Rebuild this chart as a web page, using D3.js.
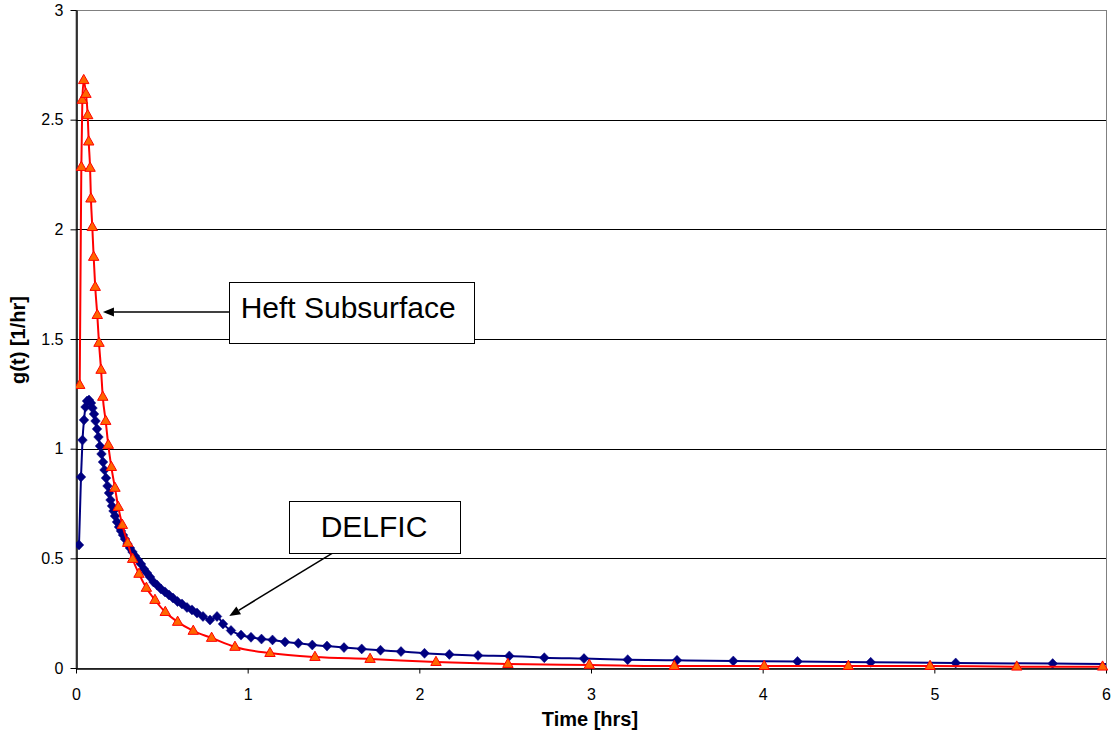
<!DOCTYPE html>
<html>
<head>
<meta charset="utf-8">
<script src="https://cdn.jsdelivr.net/npm/d3@7"></script>
<style>
  html, body { margin: 0; padding: 0; background: #fff; }
  svg { display: block; font-family: "Liberation Sans", Arial, sans-serif; }
</style>
</head>
<body>
<svg id="chart" width="1112" height="738"></svg>
<script>
// ---------- DATA ----------
const xTickValues = [0, 1, 2, 3, 4, 5, 6];
const xTickLabels = ["0", "1", "2", "3", "4", "5", "6"];
const yTickValues = [0, 0.5, 1, 1.5, 2, 2.5, 3];
const yTickLabels = ["0", "0.5", "1", "1.5", "2", "2.5", "3"];

const xTitle = "Time [hrs]";
const yTitle = "g(t) [1/hr]";

// DELFIC (blue diamonds)
const delficT = [0.0175, 0.0291, 0.0379, 0.0466, 0.0553, 0.0641, 0.0757, 0.0874, 0.0961, 0.1049,
  0.1136, 0.1223, 0.1311, 0.1398, 0.1485, 0.1573, 0.1660, 0.1748, 0.1835, 0.1922,
  0.2010, 0.2097, 0.2184, 0.2272, 0.2388, 0.2505, 0.2621, 0.2738, 0.2854, 0.3000,
  0.3146, 0.3291, 0.3437, 0.3612, 0.3786, 0.3961, 0.4136, 0.4311, 0.4515, 0.4718,
  0.4951, 0.5184, 0.5417, 0.5650, 0.5913, 0.6175, 0.6466, 0.6757, 0.7049, 0.7398,
  0.7806, 0.8214, 0.8563, 0.9029, 0.9612, 1.0194, 1.0806, 1.1447, 1.2175, 1.2950,
  1.3765, 1.4621, 1.5612, 1.6643, 1.7738, 1.8932, 2.0301, 2.1746, 2.3417, 2.5241,
  2.7280, 2.9592, 3.2138, 3.5010, 3.8290, 4.2029, 4.6293, 5.1245, 5.6895, 6.3];
const delficG = [0.561, 0.871, 1.039, 1.131, 1.190, 1.217, 1.222, 1.208, 1.185, 1.158,
  1.126, 1.090, 1.053, 1.012, 0.976, 0.939, 0.903, 0.866, 0.830, 0.798,
  0.766, 0.739, 0.716, 0.693, 0.666, 0.643, 0.625, 0.606, 0.588, 0.565,
  0.547, 0.529, 0.511, 0.492, 0.474, 0.451, 0.433, 0.415, 0.392, 0.378,
  0.360, 0.347, 0.333, 0.319, 0.303, 0.292, 0.276, 0.265, 0.251, 0.235,
  0.219, 0.235, 0.201, 0.171, 0.150, 0.140, 0.132, 0.128, 0.119, 0.113,
  0.105, 0.100, 0.093, 0.087, 0.081, 0.075, 0.067, 0.062, 0.057, 0.055,
  0.047, 0.043, 0.038, 0.035, 0.032, 0.030, 0.026, 0.023, 0.020, 0.017];

// Heft Subsurface (red triangles)
const heftT = [0.0216, 0.031, 0.037, 0.045, 0.058, 0.068, 0.074, 0.082, 0.087, 0.095,
  0.103, 0.112, 0.124, 0.134, 0.146, 0.156, 0.173, 0.188, 0.206, 0.227,
  0.246, 0.270, 0.301, 0.330, 0.367, 0.410, 0.460, 0.520, 0.592, 0.683,
  0.790, 0.926, 1.130, 1.392, 1.713, 2.097, 2.516, 2.990, 3.485, 4.009,
  4.499, 4.975, 5.480, 5.980];
const heftG = [1.290, 2.284, 2.590, 2.680, 2.617, 2.520, 2.400, 2.280, 2.140, 2.010,
  1.874, 1.737, 1.609, 1.482, 1.359, 1.236, 1.126, 1.017, 0.916, 0.821,
  0.734, 0.652, 0.570, 0.497, 0.429, 0.365, 0.310, 0.255, 0.210, 0.169,
  0.137, 0.096, 0.068, 0.050, 0.041, 0.027, 0.018, 0.014, 0.009, 0.009,
  0.009, 0.009, 0.006, 0.006];

// Annotations (in data units)
const annotations = [
  { label: "Heft Subsurface", box: [0.891, 1.760, 2.318, 1.482], text: [0.959, 1.594], anchor: "start",
    from: [0.891, 1.623], to: [0.157, 1.623] },
  { label: "DELFIC", box: [1.243, 0.763, 2.237, 0.526], text: [1.736, 0.597], anchor: "middle",
    from: [1.499, 0.526], to: [0.893, 0.237] }
];

// ---------- CHART ----------
const svg = d3.select("#chart");
const x = d3.scaleLinear().domain([0, 6]).range([76, 1106]);
const y = d3.scaleLinear().domain([0, 3]).range([668, 10]);

const delfic = delficT.map((t, i) => ({ t, g: delficG[i] }));
const heft = heftT.map((t, i) => ({ t, g: heftG[i] }));

svg.append("defs").append("clipPath").attr("id", "plotClip")
  .append("rect").attr("x", 76).attr("y", 4).attr("width", 1036).attr("height", 672);
svg.append("defs").append("clipPath").attr("id", "lineClip")
  .append("rect").attr("x", 76).attr("y", 4).attr("width", 1030).attr("height", 672);

// plot border (gray)
svg.append("rect")
  .attr("x", x(0)).attr("y", y(3) + 0.5)
  .attr("width", x(6) - x(0) + 0.5).attr("height", y(0) - y(3))
  .attr("fill", "none").attr("stroke", "#808080").attr("stroke-width", 1);

// gridlines
svg.append("g").selectAll("line")
  .data(yTickValues.filter(v => v > 0 && v < 3))
  .join("line")
  .attr("x1", x(0)).attr("x2", x(6))
  .attr("y1", d => Math.round(y(d)) + 0.5).attr("y2", d => Math.round(y(d)) + 0.5)
  .attr("stroke", "#000").attr("stroke-width", 1);

// axes
const xAxis = d3.axisBottom(x).tickValues(xTickValues)
  .tickFormat((d, i) => xTickLabels[i]).tickSize(5).tickPadding(15).tickSizeOuter(0);
const yAxis = d3.axisLeft(y).tickValues(yTickValues)
  .tickFormat((d, i) => yTickLabels[i]).tickSize(6).tickPadding(7).tickSizeOuter(0);

const gx = svg.append("g").attr("transform", `translate(0,${Math.round(y(0)) + 0.5})`).call(xAxis);
const gy = svg.append("g").attr("transform", `translate(${Math.round(x(0)) + 0.5},0)`).call(yAxis);
[gx, gy].forEach(g => {
  g.select(".domain").attr("stroke", "#000").attr("stroke-width", 1.5);
  g.selectAll(".tick line").attr("stroke", "#000").attr("stroke-width", 1);
  g.selectAll(".tick text").attr("fill", "#000")
    .style("font-family", '"Liberation Sans", Arial, sans-serif').style("font-size", "16px");
});

// axis titles
svg.append("text").attr("x", 590).attr("y", 726).attr("text-anchor", "middle")
  .style("font-size", "20px").style("font-weight", "bold").text(xTitle);
svg.append("text").attr("transform", `translate(25,${y(1.5) + 1}) rotate(-90)`)
  .attr("text-anchor", "middle")
  .style("font-size", "20px").style("font-weight", "bold").text(yTitle);

// series
const plot = svg.append("g").attr("clip-path", "url(#plotClip)");
const line = d3.line().x(d => x(d.t)).y(d => y(d.g)).curve(d3.curveMonotoneX);

plot.append("path").datum(delfic).attr("d", line).attr("clip-path", "url(#lineClip)")
  .attr("fill", "none").attr("stroke", "#000080").attr("stroke-width", 2);
plot.append("g").selectAll("path").data(delfic.filter(d => d.t <= 6)).join("path")
  .attr("transform", d => `translate(${x(d.t)},${y(d.g)})`)
  .attr("d", "M0,-5L4.8,0L0,5L-4.8,0Z")
  .attr("fill", "#000080").attr("stroke", "#000080").attr("stroke-width", 0.5);

plot.append("path").datum(heft).attr("d", line).attr("clip-path", "url(#lineClip)")
  .attr("fill", "none").attr("stroke", "#ff0000").attr("stroke-width", 2);
plot.append("g").selectAll("path").data(heft).join("path")
  .attr("transform", d => `translate(${x(d.t)},${y(d.g)})`)
  .attr("d", "M0,-5.8L5.2,3.4L-5.2,3.4Z")
  .attr("fill", "#ff6600").attr("stroke", "#ff0000").attr("stroke-width", 1);

// annotations
const ann = svg.append("g");
annotations.forEach(a => {
  const x1 = x(a.box[0]), y1 = y(a.box[1]), x2 = x(a.box[2]), y2 = y(a.box[3]);
  const fx = x(a.from[0]), fy = y(a.from[1]), tx = x(a.to[0]), ty = y(a.to[1]);
  const ang = Math.atan2(ty - fy, tx - fx);
  const L = 11, Wd = 4.5;
  const bx = tx - L * Math.cos(ang), by = ty - L * Math.sin(ang);
  ann.append("line").attr("x1", fx).attr("y1", fy).attr("x2", bx).attr("y2", by)
    .attr("stroke", "#000").attr("stroke-width", 1.5);
  ann.append("path")
    .attr("d", `M${tx},${ty}L${bx + Wd * Math.sin(ang)},${by - Wd * Math.cos(ang)}L${bx - Wd * Math.sin(ang)},${by + Wd * Math.cos(ang)}Z`)
    .attr("fill", "#000");
  ann.append("rect").attr("x", Math.round(x1) + 0.5).attr("y", Math.round(y1) + 0.5)
    .attr("width", Math.round(x2 - x1)).attr("height", Math.round(y2 - y1))
    .attr("fill", "#fff").attr("stroke", "#000").attr("stroke-width", 1);
  ann.append("text").attr("x", x(a.text[0])).attr("y", y(a.text[1]))
    .attr("text-anchor", a.anchor).style("font-size", "30px").attr("fill", "#000").text(a.label);
});
</script>
</body>
</html>
